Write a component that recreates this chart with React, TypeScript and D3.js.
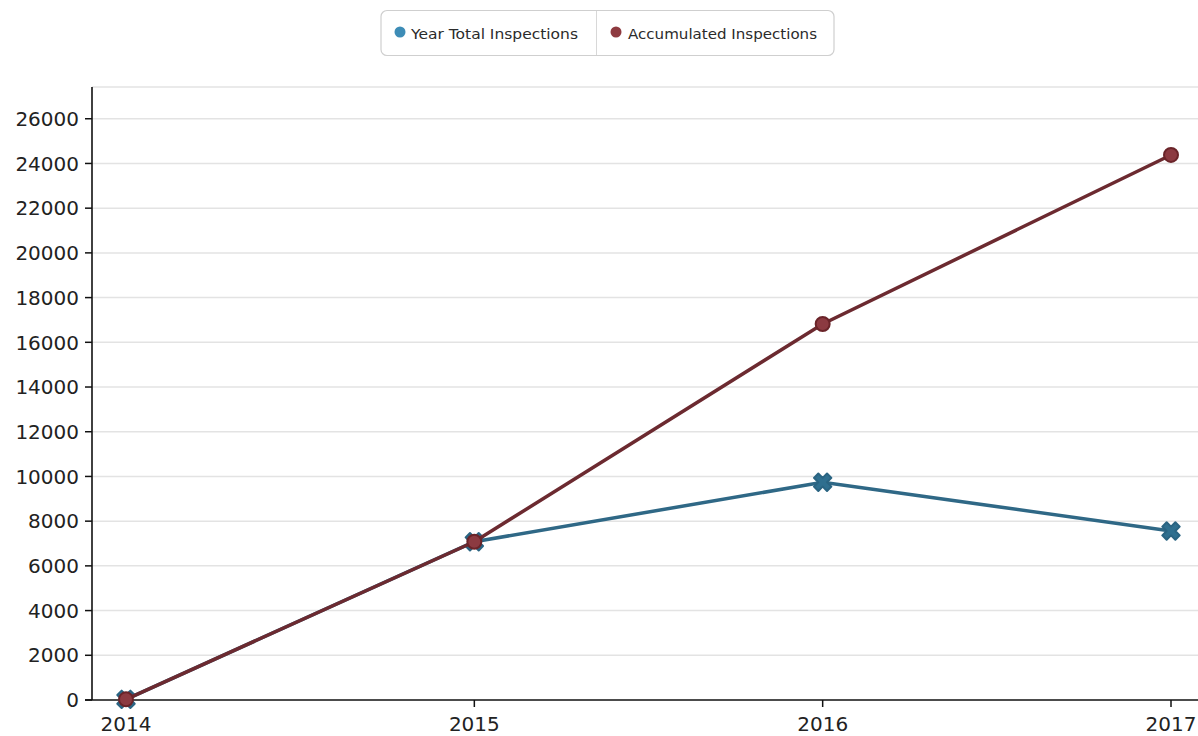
import React from "react";
import * as d3 from "d3";

// Inspection counts per year
const years = ["2014", "2015", "2016", "2017"];
const yearTotal = [30, 7080, 9740, 7560];
const accumulated = [30, 7080, 16820, 24380];
const yTicks = [0, 2000, 4000, 6000, 8000, 10000, 12000, 14000, 16000, 18000, 20000, 22000, 24000, 26000];
const seriesNames = ["Year Total Inspections", "Accumulated Inspections"];

const W = 1198;
const H = 736;
const margin = { left: 92, top: 87, bottom: 700 };

export default function App() {
  const x = d3.scalePoint<string>().domain(years).range([126, 1171]);
  const y = d3.scaleLinear().domain([0, 27420]).range([margin.bottom, margin.top]);

  const line = d3
    .line<number>()
    .x((_, i) => x(years[i]) as number)
    .y((v) => y(v));

  const cross = d3.symbol().type(d3.symbolCross).size(190)();
  const font = "'DejaVu Sans', Verdana, sans-serif";

  return (
    <svg
      width={W}
      height={H}
      style={{ position: "absolute", left: 0, top: 0, background: "#fff" }}
      fontFamily={font}
    >
      {/* legend */}
      <g>
        <rect x={381} y={10.5} width={453} height={45} rx={6} fill="#fff" stroke="#cfcfcf" strokeWidth={1.2} />
        <line x1={596.5} x2={596.5} y1={11} y2={55} stroke="#d8d8d8" />
        <circle cx={400} cy={32} r={5.5} fill="#3d8cb6" />
        <text x={411} y={38.5} fontSize={14} fill="#2b2b2b" textLength={167} lengthAdjust="spacingAndGlyphs">
          {seriesNames[0]}
        </text>
        <circle cx={616} cy={32} r={5.5} fill="#8e3a40" />
        <text x={628} y={38.5} fontSize={14} fill="#2b2b2b" textLength={189} lengthAdjust="spacingAndGlyphs">
          {seriesNames[1]}
        </text>
      </g>

      {/* grid */}
      <line x1={margin.left} x2={W} y1={margin.top} y2={margin.top} stroke="#e3e3e3" strokeWidth={1.5} />
      {yTicks.map((t) =>
        t === 0 ? null : (
          <line key={t} x1={margin.left} x2={W} y1={y(t)} y2={y(t)} stroke="#e3e3e3" strokeWidth={1.5} />
        )
      )}

      {/* y axis */}
      <line x1={margin.left} x2={margin.left} y1={margin.top} y2={margin.bottom} stroke="#111" strokeWidth={1.6} />
      {yTicks.map((t) => (
        <g key={t} transform={`translate(0,${y(t)})`}>
          <line x1={margin.left - 7} x2={margin.left} stroke="#111" strokeWidth={1.5} />
          <text x={margin.left - 13} dy="0.36em" textAnchor="end" fontSize={20} fill="#222">
            {t}
          </text>
        </g>
      ))}

      {/* x axis */}
      <line x1={margin.left - 7} x2={W} y1={margin.bottom} y2={margin.bottom} stroke="#111" strokeWidth={1.6} />
      {years.map((yr) => (
        <g key={yr} transform={`translate(${x(yr)},${margin.bottom})`}>
          <line y1={0} y2={7} stroke="#111" strokeWidth={1.5} />
          <text y={31} textAnchor="middle" fontSize={20} fill="#222">
            {yr}
          </text>
        </g>
      ))}

      {/* year total series */}
      <path d={line(yearTotal) ?? ""} fill="none" stroke="#2f6886" strokeWidth={3.5} />
      {yearTotal.map((v, i) => (
        <path
          key={i}
          d={cross ?? ""}
          transform={`translate(${x(years[i])},${y(v)}) rotate(45)`}
          fill="#2f6f8f"
          stroke="#2a6482"
          strokeWidth={2}
          strokeLinejoin="round"
        />
      ))}

      {/* accumulated series */}
      <path d={line(accumulated) ?? ""} fill="none" stroke="#6c2a30" strokeWidth={3.5} />
      {accumulated.map((v, i) => (
        <circle key={i} cx={x(years[i])} cy={y(v)} r={7} fill="#8c3a41" stroke="#6a2429" strokeWidth={2} />
      ))}
    </svg>
  );
}
